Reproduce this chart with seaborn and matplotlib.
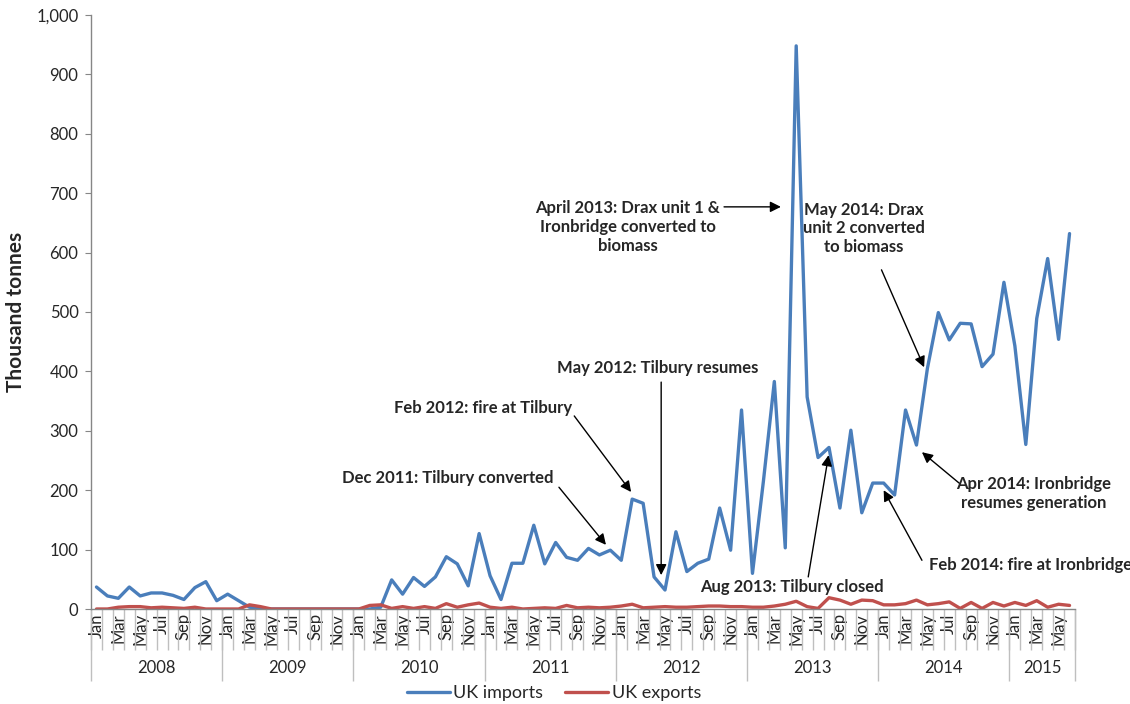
import numpy as np
import pandas as pd
import matplotlib
matplotlib.use("Agg")
import matplotlib.pyplot as plt
import matplotlib.ticker as mticker
import seaborn as sns

# monthly data, Jan 2008 - Jun 2015 (thousand tonnes)
years = ["2008", "2009", "2010", "2011", "2012", "2013", "2014", "2015"]
month_names = ["Jan", "Feb", "Mar", "Apr", "May", "Jun",
               "Jul", "Aug", "Sep", "Oct", "Nov", "Dec"]

imports = [
    37, 22, 18, 37, 22, 27, 27, 23, 16, 36, 46, 14,          # 2008
    25, 14, 3, 1, 0, 0, 0, 0, 0, 0, 0, 0,                    # 2009
    0, 0, 3, 49, 25, 53, 38, 54, 88, 76, 39, 127,           # 2010
    56, 16, 77, 77, 141, 76, 112, 87, 82, 102, 91, 99,      # 2011
    82, 185, 178, 54, 32, 130, 63, 77, 84, 170, 99, 335,    # 2012
    60, 215, 383, 103, 948, 357, 255, 272, 170, 301, 162, 212,  # 2013
    212, 192, 335, 276, 405, 499, 453, 481, 480, 408, 429, 550,  # 2014
    443, 277, 489, 590, 454, 632,                            # 2015
]
exports = [
    0, 0, 3, 4, 4, 2, 3, 2, 1, 3, 0, 0,
    0, 0, 7, 4, 0, 0, 0, 0, 0, 0, 0, 0,
    0, 6, 7, 1, 4, 1, 4, 1, 9, 3, 7, 10,
    3, 1, 3, 0, 1, 2, 1, 6, 2, 3, 2, 3,
    5, 8, 2, 3, 4, 3, 3, 4, 5, 5, 4, 4,
    3, 3, 5, 8, 13, 4, 1, 19, 15, 8, 15, 14,
    7, 7, 9, 15, 7, 9, 12, 1, 11, 1, 11, 5,
    11, 6, 14, 3, 8, 6,
]

n = len(imports)
df = pd.DataFrame({
    "month": np.tile(np.arange(n), 2),
    "value": imports + exports,
    "series": ["UK imports"] * n + ["UK exports"] * n,
})

# annotations: (text, text pos, arrow tail, arrow tip) in data coords
notes = [
    ("April 2013: Drax unit 1 &\nIronbridge converted to\nbiomass", (48.6, 643), (57.4, 677), (62.6, 677)),
    ("May 2014: Drax\nunit 2 converted\nto biomass", (70.2, 641), (71.8, 571), (75.7, 407)),
    ("May 2012: Tilbury resumes", (51.3, 406), (51.65, 382), (51.65, 57)),
    ("Feb 2012: fire at Tilbury", (35.4, 338), (43.7, 325), (48.9, 197)),
    ("Dec 2011: Tilbury converted", (32.1, 220), (42.3, 205), (46.6, 108)),
    ("Aug 2013: Tilbury closed", (63.6, 37), (65.1, 54), (66.96, 259)),
    ("Apr 2014: Ironbridge\nresumes generation", (85.7, 194), (78.9, 212), (75.5, 264)),
    ("Feb 2014: fire at Ironbridge", (85.4, 74), (75.5, 82), (72.0, 200)),
]

sns.set_style("white")
plt.rcParams["font.family"] = ["Lato", "DejaVu Sans"]
grey = "#868686"

fig = plt.figure(figsize=(11.3, 7.04), dpi=100)
ax = fig.add_axes([91 / 1130, 95 / 704, 984 / 1130, 594 / 704])

sns.lineplot(data=df, x="month", y="value", hue="series",
             palette={"UK imports": "#4A7EBB", "UK exports": "#C0504D"},
             linewidth=2.4, ax=ax, legend=True)

ax.set_xlim(-0.5, n - 0.5)
ax.set_ylim(0, 1000)
ax.yaxis.set_major_locator(mticker.MultipleLocator(100))
ax.yaxis.set_major_formatter(mticker.FuncFormatter(lambda v, p: f"{int(v):,}"))
ax.tick_params(axis="y", length=4, color=grey, labelsize=12, pad=5, direction="out", left=True)
ax.set_ylabel("Thousand tonnes", fontsize=15, fontweight="bold")
ax.yaxis.set_label_coords(-0.066, 0.5)
ax.set_xlabel("")

for s in ["top", "right"]:
    ax.spines[s].set_visible(False)
for s in ["left", "bottom"]:
    ax.spines[s].set_color(grey)
    ax.spines[s].set_linewidth(1)

# month labels (every other month) and separators
labels = [month_names[i % 12] if i % 2 == 0 else "" for i in range(n)]
ax.set_xticks(np.arange(n))
ax.set_xticklabels(labels, rotation=90, fontsize=12)
ax.tick_params(axis="x", which="major", length=0, pad=3, bottom=True)
ax.set_xticks(np.arange(n + 1) - 0.5, minor=True)
ax.tick_params(axis="x", which="minor", length=41 * 0.72, color="#BFBFBF", width=1, bottom=True)

# year level
year_bounds = [-0.5 + 12 * i for i in range(len(years))] + [n - 0.5]
year_centers = [(year_bounds[i] + year_bounds[i + 1]) / 2 for i in range(len(years))]
sec = ax.secondary_xaxis("bottom")
sec.spines["bottom"].set_visible(False)
sec.set_xticks(year_bounds)
sec.set_xticklabels([""] * len(year_bounds))
sec.tick_params(which="major", length=72 * 0.72, color="#BFBFBF", width=1)
sec.set_xticks(year_centers, minor=True)
sec.set_xticklabels(years, minor=True, fontsize=12)
sec.tick_params(which="minor", length=0, pad=37)

for text, tpos, tail, tip in notes:
    ax.text(tpos[0], tpos[1], text, ha="center", va="center", fontsize=12,
            fontweight="bold", linespacing=1.2)
    ax.annotate("", xy=tip, xytext=tail,
                arrowprops=dict(arrowstyle="-|>", color="black", lw=1, mutation_scale=16,
                                shrinkA=0, shrinkB=0))

ax.get_legend().remove()
handles, lbls = ax.get_legend_handles_labels()
fig.legend(handles, lbls, loc="center", bbox_to_anchor=(554 / 1130, 11 / 704), ncol=2,
           frameon=False, fontsize=13, handlelength=2.4, columnspacing=1.2, handletextpad=0.2,
           borderpad=0)

fig.savefig("out.png", dpi=100)
